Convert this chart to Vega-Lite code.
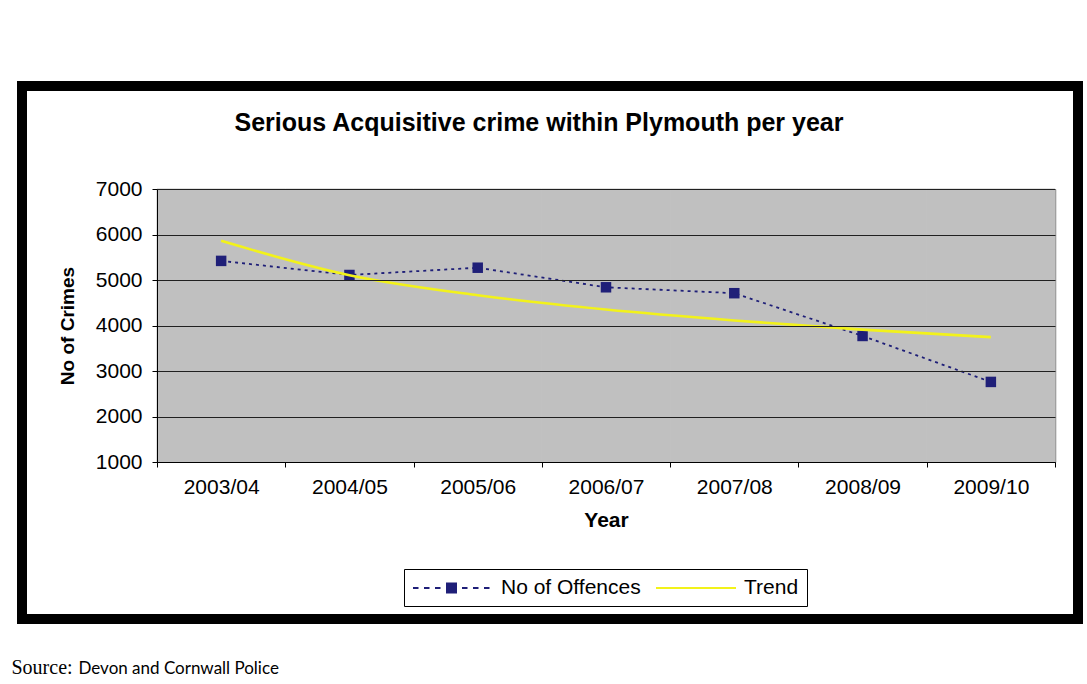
{
  "$schema": "https://vega.github.io/schema/vega-lite/v6.json",
  "width": 1056,
  "height": 533,
  "autosize": "none",
  "padding": {"left": 22, "top": 86, "right": 9, "bottom": 65},
  "background": "white",
  "config": {
    "view": {"fill": "white", "stroke": "black", "strokeWidth": 10},
    "font": "Liberation Sans",
    "axis": {"labelFont": "Liberation Sans", "titleFont": "Liberation Sans", "labelColor": "black", "titleColor": "black"}
  },
  "title": {
    "text": "Serious Acquisitive crime within Plymouth per year",
    "anchor": "middle",
    "frame": "group",
    "offset": -50,
    "dx": -11,
    "font": "Liberation Sans",
    "fontSize": 25,
    "fontWeight": "bold",
    "color": "black"
  },
  "datasets": {
    "crime": [
      {"year": "2003/04", "series": "No of Offences", "value": 5420},
      {"year": "2004/05", "series": "No of Offences", "value": 5110},
      {"year": "2005/06", "series": "No of Offences", "value": 5270},
      {"year": "2006/07", "series": "No of Offences", "value": 4840},
      {"year": "2007/08", "series": "No of Offences", "value": 4710},
      {"year": "2008/09", "series": "No of Offences", "value": 3770},
      {"year": "2009/10", "series": "No of Offences", "value": 2760},
      {"year": "2003/04", "series": "Trend", "value": 5860},
      {"year": "2004/05", "series": "Trend", "value": 5105},
      {"year": "2005/06", "series": "Trend", "value": 4665},
      {"year": "2006/07", "series": "Trend", "value": 4350},
      {"year": "2007/08", "series": "Trend", "value": 4110},
      {"year": "2008/09", "series": "Trend", "value": 3910},
      {"year": "2009/10", "series": "Trend", "value": 3745}
    ]
  },
  "data": {"name": "crime"},
  "resolve": {"axis": {"x": "independent", "y": "independent"}},
  "layer": [
    {
      "transform": [{"filter": "datum.series === 'No of Offences'"}],
      "mark": {"type": "rect", "color": "#C0C0C0", "stroke": "#C0C0C0", "strokeWidth": 1},
      "encoding": {
        "x": {
          "field": "year", "type": "nominal",
          "scale": {"type": "band", "range": [135, 1033], "paddingInner": 0, "paddingOuter": 0},
          "axis": {
            "orient": "bottom", "offset": -157, "labelAngle": 0, "labelFontSize": 21,
            "labelPadding": 9, "tickSize": 5, "tickColor": "black", "domainColor": "black",
            "tickBand": "extent", "grid": false, "zindex": 1,
            "title": "Year", "titleFontSize": 21, "titleFontWeight": "bold", "titlePadding": 12
          }
        },
        "y": {
          "datum": 7000, "type": "quantitative",
          "scale": {"domain": [1000, 7000], "range": [376, 103], "nice": false, "zero": false},
          "axis": {
            "orient": "left", "offset": -135, "values": [1000, 2000, 3000, 4000, 5000, 6000, 7000],
            "format": "d", "labelFontSize": 21, "labelPadding": 10, "tickSize": 5, "tickColor": "black",
            "domainColor": "black", "grid": true, "gridColor": "#202020", "gridWidth": 1.2, "zindex": 1,
            "title": "No of Crimes", "titleFontSize": 19, "titleFontWeight": "bold", "titlePadding": 18
          }
        },
        "y2": {"datum": 1000}
      }
    },
    {
      "transform": [{"filter": "datum.series === 'No of Offences'"}],
      "mark": {"type": "line", "strokeDash": [3, 4], "strokeWidth": 1.8},
      "encoding": {
        "x": {"field": "year", "type": "nominal", "axis": null},
        "y": {
          "field": "value", "type": "quantitative",
          "axis": {"orient": "right", "offset": -23, "labels": false, "ticks": false, "grid": false, "domainColor": "#808080", "domainWidth": 1.5, "title": null}
        },
        "color": {
          "field": "series", "type": "nominal",
          "scale": {"domain": ["No of Offences", "Trend"], "range": ["#1F1F78", "#F2F21A"]},
          "legend": {
            "orient": "none", "legendX": 382, "legendY": 483, "direction": "horizontal",
            "title": null, "strokeColor": "black", "fillColor": "white", "padding": 8,
            "labelFont": "Liberation Sans", "labelFontSize": 21, "labelColor": "black",
            "symbolSize": 400, "symbolStrokeWidth": 2, "columnPadding": 11, "labelOffset": 67,
            "encode": {
              "symbols": {
                "update": {
                  "shape": {"signal": "datum.value === 'Trend' ? 'M-1,0H7' : 'M-1,0H-0.45M0.1,0H0.65M1.2,0H1.75M3.9,0H4.45M5,0H5.55M6.1,0H6.65M2.4,-0.45H3.3V0.45H2.4Z'"},
                  "fill": {"value": "#1F1F78"}
                }
              }
            }
          }
        }
      }
    },
    {
      "transform": [{"filter": "datum.series === 'No of Offences'"}],
      "mark": {"type": "point", "shape": "square", "filled": true, "size": 110, "color": "#1F1F78", "opacity": 1},
      "encoding": {
        "x": {
          "field": "year", "type": "nominal",
          "axis": {"orient": "bottom", "labels": false, "ticks": false, "domain": false, "grid": false,
            "title": "Source:", "titleX": -11, "titleY": 54, "titleAlign": "left", "titleBaseline": "alphabetic",
            "titleAngle": 0, "titleFont": "Liberation Serif", "titleFontSize": 20, "titleFontWeight": "normal"}
        },
        "y": {"field": "value", "type": "quantitative", "axis": null}
      }
    },
    {
      "transform": [{"filter": "datum.series === 'Trend'"}],
      "mark": {"type": "line", "interpolate": "monotone", "strokeWidth": 2.6},
      "encoding": {
        "x": {
          "field": "year", "type": "nominal",
          "axis": {"orient": "bottom", "labels": false, "ticks": false, "domain": false, "grid": false,
            "title": "Devon and Cornwall Police", "titleX": 56, "titleY": 54, "titleAlign": "left", "titleBaseline": "alphabetic",
            "titleAngle": 0, "titleFont": "Lato", "titleFontSize": 17, "titleFontWeight": "normal"}
        },
        "y": {"field": "value", "type": "quantitative", "axis": null},
        "color": {"field": "series", "type": "nominal"}
      }
    }
  ]
}
